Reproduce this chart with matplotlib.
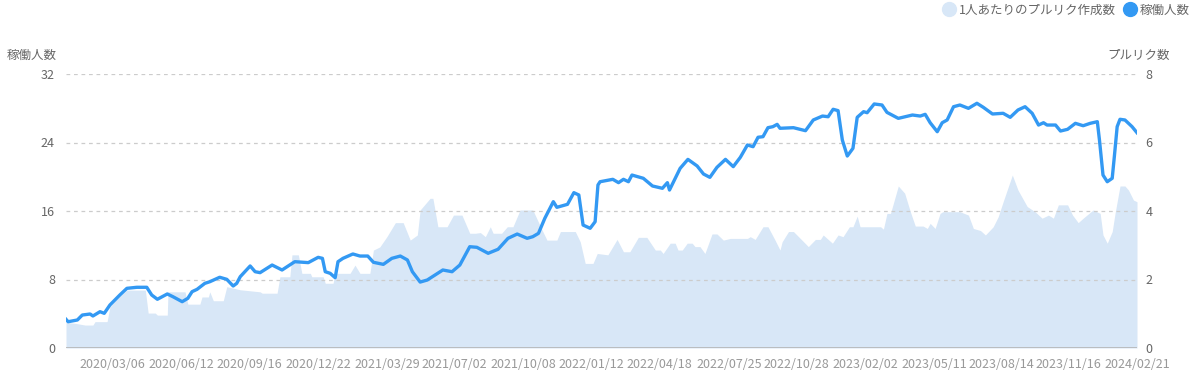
import matplotlib

matplotlib.use("Agg")
import matplotlib.pyplot as plt
import pandas as pd
from matplotlib.lines import Line2D

plt.rcParams["font.family"] = ["Noto Sans CJK JP", "DejaVu Sans"]

START = pd.Timestamp("2020-01-01")

# 稼働人数 (left axis): day offset from START, value
worker_days = [
    0, 3, 16, 23, 34, 38, 48, 54, 62, 76, 86, 100, 114, 121, 129, 143, 151, 164,
    172, 178, 185, 196, 203, 217, 227, 236, 241, 246, 260, 267, 274, 291, 305,
    323, 342, 356, 362, 366, 373, 380, 384, 391, 405, 415, 426, 434, 448, 460,
    472, 482, 489, 500, 510, 521, 532, 545, 556, 570, 580, 596, 610, 624, 637,
    651, 659, 667, 676, 688, 693, 708, 717, 724, 730, 740, 747, 751, 754, 772,
    780, 787, 794, 799, 815, 828, 842, 849, 852, 867, 878, 891, 900, 909, 919,
    931, 942, 952, 962, 970, 977, 984, 991, 998, 1004, 1008, 1027, 1044, 1055,
    1068, 1076, 1083, 1090, 1096, 1103, 1111, 1117, 1126, 1131, 1141, 1152,
    1159, 1175, 1185, 1195, 1206, 1213, 1220, 1230, 1237, 1244, 1253, 1262,
    1274, 1286, 1295, 1308, 1323, 1333, 1344, 1354, 1364, 1373, 1380, 1385,
    1397, 1404, 1414, 1425, 1436, 1446, 1456, 1459, 1464, 1470, 1477, 1480,
    1484, 1488, 1495, 1505, 1512,
]
workers = [
    3.35, 3.07, 3.27, 3.85, 3.97, 3.74, 4.24, 4.05, 5.02, 6.19, 6.97, 7.09, 7.09,
    6.19, 5.69, 6.31, 5.99, 5.41, 5.80, 6.58, 6.85, 7.55, 7.74, 8.26, 8.02, 7.24,
    7.55, 8.33, 9.58, 8.91, 8.80, 9.69, 9.11, 10.08, 9.97, 10.59, 10.47, 8.91,
    8.72, 8.21, 10.08, 10.47, 10.98, 10.74, 10.74, 10.01, 9.77, 10.47, 10.74,
    10.28, 8.91, 7.70, 7.94, 8.53, 9.11, 8.91, 9.69, 11.83, 11.76, 11.06, 11.53,
    12.81, 13.31, 12.81, 13.00, 13.39, 15.15, 17.09, 16.43, 16.78, 18.14, 17.87,
    14.36, 13.98, 14.75, 19.04, 19.42, 19.70, 19.31, 19.70, 19.42, 20.20, 19.82,
    18.92, 18.65, 19.31, 18.45, 20.98, 22.03, 21.26, 20.32, 19.93, 21.10, 22.03,
    21.18, 22.27, 23.71, 23.51, 24.61, 24.68, 25.73, 25.85, 26.12, 25.66, 25.73,
    25.38, 26.63, 27.09, 27.01, 27.88, 27.72, 24.29, 22.42, 23.32, 26.94, 27.60,
    27.48, 28.50, 28.38, 27.52, 26.82, 27.01, 27.21, 27.09, 27.29, 26.31, 25.26,
    26.31, 26.63, 28.18, 28.38, 27.99, 28.58, 28.11, 27.33, 27.41, 26.94, 27.80,
    28.18, 27.41, 26.04, 26.31, 26.04, 26.04, 25.34, 25.54, 26.24, 25.96, 26.24,
    26.43, 24.29, 20.20, 19.42, 19.82, 22.34, 25.85, 26.71, 26.63, 25.85, 25.14,
]

# 1人あたりのプルリク作成数 (right axis): envelope of the daily bars
pr_days = [
    0, 13, 27, 38, 41, 58, 62, 73, 86, 112, 116, 126, 129, 143, 144, 168, 172,
    189, 192, 201, 203, 208, 222, 227, 246, 274, 277, 298, 302, 316, 319, 328,
    333, 345, 347, 363, 366, 377, 380, 401, 408, 415, 429, 434, 443, 453, 465,
    476, 486, 496, 500, 514, 518, 525, 538, 547, 559, 570, 578, 585, 592, 599,
    603, 615, 623, 631, 641, 659, 672, 679, 693, 698, 719, 726, 733, 744, 750,
    765, 778, 787, 796, 808, 820, 832, 839, 843, 853, 860, 864, 870, 877, 884,
    888, 895, 902, 912, 919, 928, 938, 962, 966, 973, 984, 991, 1001, 1008,
    1011, 1020, 1027, 1039, 1048, 1058, 1065, 1069, 1082, 1090, 1097, 1106,
    1111, 1117, 1121, 1133, 1150, 1154, 1159, 1164, 1175, 1184, 1192, 1199,
    1210, 1216, 1220, 1227, 1234, 1238, 1262, 1274, 1281, 1291, 1298, 1309,
    1316, 1323, 1336, 1344, 1357, 1368, 1378, 1387, 1394, 1401, 1414, 1421,
    1429, 1436, 1450, 1460, 1464, 1470, 1477, 1481, 1488, 1495, 1500, 1507,
    1512,
]
pr_per_person = [
    0.75, 0.72, 0.67, 0.67, 0.77, 0.77, 1.20, 1.45, 1.69, 1.69, 1.02, 1.02, 0.96,
    0.96, 1.64, 1.64, 1.28, 1.28, 1.49, 1.49, 1.64, 1.38, 1.38, 1.79, 1.70, 1.64,
    1.60, 1.60, 2.08, 2.08, 2.72, 2.72, 2.18, 2.18, 2.08, 2.08, 1.89, 1.89, 2.18,
    2.18, 2.42, 2.18, 2.18, 2.86, 2.95, 3.25, 3.66, 3.66, 3.15, 3.30, 4.03, 4.37,
    4.37, 3.54, 3.54, 3.88, 3.88, 3.35, 3.35, 3.37, 3.25, 3.54, 3.35, 3.35, 3.54,
    3.54, 4.03, 4.03, 3.45, 3.15, 3.15, 3.40, 3.40, 3.10, 2.47, 2.47, 2.76, 2.72,
    3.17, 2.81, 2.81, 3.23, 3.23, 2.86, 2.86, 2.76, 3.06, 3.06, 2.86, 2.86, 3.06,
    3.06, 2.96, 2.96, 2.76, 3.33, 3.33, 3.15, 3.20, 3.20, 3.25, 3.17, 3.54, 3.54,
    3.15, 2.86, 3.10, 3.40, 3.40, 3.15, 2.96, 3.17, 3.17, 3.30, 3.06, 3.30, 3.25,
    3.54, 3.54, 3.85, 3.54, 3.54, 3.54, 3.47, 3.93, 3.93, 4.73, 4.52, 3.98, 3.56,
    3.56, 3.49, 3.64, 3.49, 3.93, 3.98, 3.98, 3.88, 3.49, 3.43, 3.30, 3.54, 3.83,
    4.27, 5.05, 4.61, 4.13, 3.98, 3.79, 3.88, 3.79, 4.18, 4.18, 3.88, 3.66, 3.79,
    4.03, 3.93, 3.30, 3.06, 3.40, 3.93, 4.73, 4.73, 4.61, 4.32, 4.27,
]

tick_labels = [
    "2020/03/06", "2020/06/12", "2020/09/16", "2020/12/22", "2021/03/29",
    "2021/07/02", "2021/10/08", "2022/01/12", "2022/04/18", "2022/07/25",
    "2022/10/28", "2023/02/02", "2023/05/11", "2023/08/14", "2023/11/16",
    "2024/02/21",
]

LINE_C = "#3399f3"
AREA_C = "#d8e7f7"
TXT_C = "#666666"

w_dates = START + pd.to_timedelta(worker_days, unit="D")
p_dates = START + pd.to_timedelta(pr_days, unit="D")
tick_dates = pd.to_datetime(tick_labels, format="%Y/%m/%d")

fig = plt.figure(figsize=(11.96, 3.76), dpi=100)
ax = fig.add_axes([66 / 1196, 1 - 348 / 376, (1137 - 66) / 1196, 274 / 376])
ax2 = ax.twinx()

# area on the right axis, drawn below the line axis
ax2.fill_between(p_dates, pr_per_person, 0, color=AREA_C, linewidth=0)
ax2.set_ylim(0, 8)
ax2.set_yticks([0, 2, 4, 6, 8])
ax.set_zorder(ax2.get_zorder() + 1)
ax.patch.set_visible(False)

ax.plot(w_dates, workers, color=LINE_C, linewidth=2.4, solid_joinstyle="round")
ax.set_ylim(0, 32)
ax.set_yticks([0, 8, 16, 24, 32])
ax.set_xlim(START, START + pd.Timedelta(days=1512))
ax.set_xticks(tick_dates)
ax.set_xticklabels(tick_labels)

for a in (ax, ax2):
    for s in a.spines.values():
        s.set_visible(False)
    a.tick_params(length=0, labelsize=9, colors=TXT_C)
ax.tick_params(axis="x", colors="#999999", pad=7)
ax.tick_params(axis="y", pad=8)
ax2.tick_params(axis="y", pad=6)

for v in (8, 16, 24, 32):
    ax.axhline(v, color="#cccccc", linewidth=0.9, linestyle=(0, (3, 3)), zorder=0)
ax.axhline(0, color="#b5b5b5", linewidth=1.2, zorder=3)

fig.text(7 / 1196, 1 - 55 / 376, "稼働人数", fontsize=9, color=TXT_C, va="center")
fig.text(1170 / 1196, 1 - 55 / 376, "プルリク数", fontsize=9, color=TXT_C,
         va="center", ha="right")

handles = [
    Line2D([], [], marker="o", linestyle="", markersize=10,
           markerfacecolor=AREA_C, markeredgecolor=AREA_C),
    Line2D([], [], marker="o", linestyle="", markersize=10,
           markerfacecolor=LINE_C, markeredgecolor=LINE_C),
]
leg = fig.legend(handles, ["1人あたりのプルリク作成数", "稼働人数"], ncol=2,
                 loc="upper right", bbox_to_anchor=(1.004, 1.02), frameon=False,
                 fontsize=9, handletextpad=0.2, columnspacing=0.5,
                 handlelength=1.2)
for t in leg.get_texts():
    t.set_color(TXT_C)

fig.savefig("out.png", dpi=100)
